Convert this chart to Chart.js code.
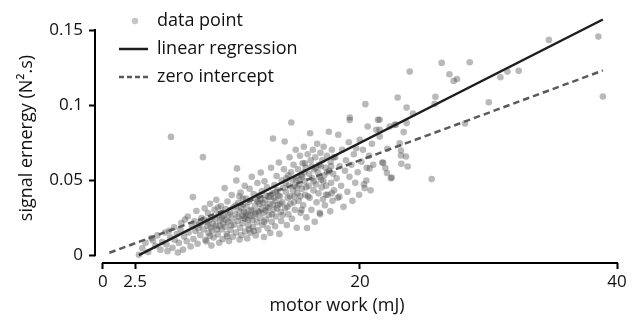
<!DOCTYPE html>
<html>
<head>
<meta charset="utf-8">
<script src="https://cdn.jsdelivr.net/npm/chart.js@4.4.1/dist/chart.umd.min.js"></script>
<style>
  html, body { margin: 0; padding: 0; background: #fff; }
  canvas { display: block; }
</style>
</head>
<body>
<canvas id="workChart" width="637" height="322"></canvas>
<script>
// measured trials: [motor work (mJ), signal energy (N^2.s)]
const dataPoints = [
  // 2.5 - 7 mJ
  [2.8,0.0003],[3.06,0.0046],[3.31,0.0083],[3.52,0.0021],[3.77,0.0114],[3.89,0.0098],[4.08,0.0063],[4.23,0.0132],
  [4.47,0.0037],[4.61,0.0088],[4.83,0.0151],[4.94,0.0072],[5.02,0.0027],[5.14,0.0163],[5.23,0.0119],[5.29,0.0788],
  [5.41,0.0049],[5.53,0.0186],[5.58,0.0103],[5.74,0.0141],[5.83,0.0018],[5.91,0.0082],[6.04,0.0172],[6.1,0.0214],
  [6.23,0.0037],[6.31,0.0124],[6.38,0.0238],[6.52,0.0093],[6.6,0.0258],[6.66,0.0151],[6.82,0.0058],[6.94,0.0193],
  // 7 - 10 mJ
  [7.0,0.0387],[7.04,0.0108],[7.12,0.0226],[7.19,0.0161],[7.27,0.0294],[7.36,0.0076],[7.48,0.0203],[7.57,0.0134],
  [7.66,0.0247],[7.78,0.0653],[7.83,0.0171],[7.91,0.0312],[7.97,0.0102],[8.05,0.0092],[8.09,0.0221],[8.17,0.0281],
  [8.21,0.0148],[8.33,0.0343],[8.38,0.0184],[8.44,0.0064],[8.52,0.0252],[8.61,0.0118],[8.68,0.0302],[8.82,0.0369],
  [8.79,0.0197],[8.93,0.0139],[8.98,0.0268],[9.04,0.0083],[9.12,0.0231],[9.18,0.0327],[9.24,0.0172],[9.31,0.0107],
  [9.47,0.0447],[9.39,0.0262],[9.52,0.0189],[9.55,0.0308],[9.63,0.0143],[9.69,0.0358],[9.74,0.0224],[9.81,0.0094],
  [9.88,0.0283],[9.93,0.0168],[10.02,0.0401],[10.04,0.0242],[10.11,0.0123],[10.14,0.0318],
  [7.42,0.0179],[7.61,0.0215],[7.88,0.0238],[8.13,0.0196],[8.27,0.0233],[8.49,0.0162],[8.56,0.0207],[8.74,0.0241],
  [8.87,0.0173],[9.08,0.0195],[9.27,0.0249],[9.35,0.0211],[9.58,0.0236],[9.77,0.0271],[9.96,0.0199],[8.95,0.0318],
  [9.66,0.0126],[8.31,0.0128],
  // 10 - 12 mJ
  [10.21,0.0203],[10.29,0.0272],[10.38,0.0498],[10.43,0.0578],[10.36,0.0151],[10.52,0.0349],[10.48,0.0228],[10.63,0.0104],
  [10.58,0.0297],[10.71,0.0418],[10.67,0.0182],[10.82,0.0262],[10.77,0.0133],[10.91,0.0338],[10.86,0.0213],[11.03,0.0462],
  [10.98,0.0287],[11.06,0.0158],[11.14,0.0377],[11.09,0.0243],[11.23,0.0112],[11.18,0.0322],[11.32,0.0198],[11.27,0.0269],
  [11.41,0.0443],[11.37,0.0356],[11.48,0.0149],[11.52,0.0301],[11.63,0.0233],[11.58,0.0522],[11.72,0.0408],[11.67,0.0188],
  [11.83,0.0331],[11.78,0.0259],[11.89,0.0131],[11.94,0.0372],[12.02,0.0481],[11.99,0.0219],[12.06,0.0292],
  [10.33,0.0331],[10.55,0.0256],[10.74,0.0314],[10.95,0.0246],[11.12,0.0281],[11.29,0.0234],[11.45,0.0262],[11.61,0.0296],
  [11.86,0.0276],[12.04,0.0358],[10.88,0.0378],[11.36,0.0172],[11.74,0.0161],[10.61,0.0393],
  // 12 - 14 mJ
  [12.12,0.0398],[12.09,0.0168],[12.19,0.0342],[12.23,0.0247],[12.28,0.0551],[12.33,0.0308],[12.41,0.0203],[12.37,0.0427],
  [12.49,0.0282],[12.53,0.0121],[12.61,0.0368],[12.57,0.0492],[12.68,0.0238],[12.73,0.0323],[12.81,0.0179],[12.77,0.0452],
  [12.88,0.0388],[12.93,0.0268],[13.02,0.0148],[12.98,0.0343],[13.08,0.0582],[13.13,0.0223],[13.23,0.0777],[13.19,0.0412],
  [13.27,0.0302],[13.34,0.0468],[13.39,0.0192],[13.43,0.0362],[13.51,0.0528],[13.47,0.0258],[13.58,0.0432],[13.62,0.0332],
  [13.69,0.0617],[13.73,0.0142],[13.78,0.0392],[13.83,0.0288],[13.91,0.0498],[13.87,0.0228],[14.01,0.0448],[13.96,0.0352],
  [12.15,0.0288],[12.45,0.0348],[12.64,0.0298],[12.85,0.0312],[13.05,0.0388],[13.15,0.0272],[13.31,0.0382],[13.55,0.0312],
  [13.65,0.0398],[13.81,0.0342],[12.26,0.0372],[12.71,0.0398],[13.21,0.0338],[13.98,0.0268],[12.55,0.0221],[13.45,0.0422],
  // 14 - 16 mJ
  [14.14,0.0757],[14.08,0.0572],[14.18,0.0312],[14.23,0.0422],[14.31,0.0201],[14.27,0.0512],[14.38,0.0382],[14.43,0.0273],
  [14.52,0.0652],[14.47,0.0463],[14.58,0.0342],[14.63,0.0552],[14.66,0.0884],[14.71,0.0243],[14.78,0.0432],[14.83,0.0602],
  [14.88,0.0392],[14.93,0.0302],[15.0,0.0702],[15.03,0.0502],[15.08,0.0182],[15.13,0.0412],[15.18,0.0572],[15.23,0.0362],
  [15.28,0.0472],[15.33,0.0662],[15.38,0.0282],[15.43,0.0532],[15.48,0.0442],[15.53,0.0612],[15.58,0.0332],[15.63,0.0722],
  [15.68,0.0492],[15.73,0.0402],[15.78,0.0582],[15.83,0.0252],[15.88,0.0181],[15.93,0.0672],[16.01,0.0462],[16.05,0.0542],
  [14.21,0.0482],[14.41,0.0532],[14.56,0.0392],[14.74,0.0502],[14.91,0.0462],[15.06,0.0452],[15.21,0.0512],[15.36,0.0392],
  [15.51,0.0522],[15.66,0.0552],[15.81,0.0452],[15.96,0.0392],[14.35,0.0322],[14.86,0.0352],[15.45,0.0302],[15.71,0.0612],
  // 16 - 18 mJ
  [16.12,0.0812],[16.08,0.0382],[16.17,0.0632],[16.22,0.0302],[16.28,0.0512],[16.33,0.0702],[16.38,0.0432],[16.43,0.0572],
  [16.48,0.0222],[16.52,0.0652],[16.57,0.0472],[16.62,0.0352],[16.67,0.0742],[16.72,0.0552],[16.77,0.0412],[16.82,0.0602],
  [16.87,0.0282],[16.92,0.0682],[16.97,0.0502],[17.02,0.0452],[17.07,0.0632],[17.12,0.0372],[17.17,0.0722],[17.22,0.0532],
  [17.27,0.0332],[17.32,0.0582],[17.37,0.0462],[17.42,0.0662],[17.5,0.0402],[17.58,0.0822],[17.62,0.0562],[17.68,0.0292],
  [17.72,0.0622],[17.76,0.0482],[17.81,0.0702],[17.86,0.0362],[17.91,0.0542],[17.98,0.0432],[17.8,0.0412],[16.9,0.0272],
  [16.25,0.0592],[16.55,0.0582],[16.85,0.0522],[17.15,0.0492],[17.45,0.0552],[17.75,0.0592],[16.4,0.0492],[16.95,0.0592],
  [17.35,0.0402],[17.95,0.0652],
  // 18 - 21.5 mJ
  [18.07,0.0652],[18.18,0.0512],[18.31,0.0802],[18.27,0.0382],[18.42,0.0592],[18.53,0.0462],[18.61,0.0702],[18.72,0.0322],
  [18.83,0.0562],[18.91,0.0632],[19.02,0.0422],[19.13,0.0752],[19.21,0.0917],[19.18,0.0522],[19.33,0.0602],[19.41,0.0362],
  [19.52,0.0672],[19.63,0.0482],[19.71,0.0712],[19.82,0.0552],[19.93,0.0402],[19.98,0.0768],[20.11,0.0622],[20.23,0.0702],
  [20.31,0.0472],[20.42,0.1006],[20.52,0.0582],[20.6,0.0857],[20.71,0.0662],[20.82,0.0432],[20.93,0.0742],[21.03,0.0602],
  [21.27,0.0835],[21.4,0.0902],[18.4,0.0390],[20.5,0.0498],[20.36,0.0447],[20.75,0.0578],[19.2,0.0900],
  // 21.5 mJ and above
  [21.53,0.0902],[21.53,0.0835],[21.53,0.0790],[21.74,0.0617],[21.98,0.0580],[22.13,0.0709],[22.1,0.0547],[22.31,0.0857],
  [22.47,0.0518],[22.7,0.0868],[22.93,0.1050],[23.09,0.0746],[23.19,0.0697],[23.19,0.0664],[23.22,0.0609],[23.4,0.0820],
  [23.63,0.0983],[23.63,0.0880],[23.58,0.0657],[23.71,0.0591],[23.87,0.1223],[24.12,0.0943],[25.58,0.0507],[25.81,0.1008],
  [25.87,0.1055],[22.8,0.0870],[22.4,0.0513],[21.8,0.0615],
  [26.36,0.1281],[26.96,0.1205],[27.29,0.1161],[27.55,0.1174],[28.17,0.0877],[28.54,0.1285],[30.02,0.1019],[30.93,0.1185],
  [31.47,0.1223],[32.35,0.1228],[34.7,0.1434],[38.55,0.1456],[38.9,0.1057]
];

// fitted lines, end points
const regressionLine = [[2.8, 0.000], [38.9, 0.157]];
const zeroInterceptLine = [[0.5, 0.0016], [38.9, 0.123]];

const xTicks = [0, 2.5, 20, 40];
const yTicks = [0, 0.05, 0.1, 0.15];

const FONT = '"Open Sans", "DejaVu Sans", sans-serif';
const toXY = pts => pts.map(p => ({ x: p[0], y: p[1] }));

// offset spines, axis titles and the legend
const decorations = {
  id: 'decorations',
  afterDraw(chart) {
    const { ctx, chartArea, scales } = chart;
    const x = scales.x, y = scales.y;
    ctx.save();
    ctx.strokeStyle = '#000';
    ctx.lineWidth = 2;
    ctx.beginPath();
    ctx.moveTo(x.getPixelForValue(0) - 1, chartArea.bottom);
    ctx.lineTo(x.getPixelForValue(40) + 1, chartArea.bottom);
    ctx.moveTo(chartArea.left, y.getPixelForValue(0) + 1);
    ctx.lineTo(chartArea.left, y.getPixelForValue(0.15) - 1);
    ctx.stroke();

    ctx.fillStyle = '#111';
    ctx.font = '18px ' + FONT;
    ctx.textAlign = 'center';
    ctx.textBaseline = 'middle';
    ctx.fillText('motor work (mJ)', 337, 306);
    ctx.save();
    ctx.translate(27, 138);
    ctx.rotate(-Math.PI / 2);
    ctx.fillText('signal ernergy (N\u00B2.s)', 0, 0);
    ctx.restore();

    // legend
    const rows = [21, 49, 77];
    ctx.textAlign = 'left';
    chart.data.datasets.forEach((ds, i) => {
      const ry = rows[i];
      if (ds.showLine) {
        ctx.strokeStyle = ds.borderColor;
        ctx.lineWidth = ds.borderWidth;
        ctx.setLineDash(ds.borderDash ? [5, 3] : []);
        ctx.beginPath();
        ctx.moveTo(119, ry);
        ctx.lineTo(148, ry);
        ctx.stroke();
        ctx.setLineDash([]);
      } else {
        ctx.fillStyle = '#c6c6c6';
        ctx.beginPath();
        ctx.arc(135, ry, 3.2, 0, Math.PI * 2);
        ctx.fill();
      }
      ctx.fillStyle = '#111';
      ctx.fillText(ds.label, 157, ry);
    });
    ctx.restore();
  }
};

const ctx = document.getElementById('workChart').getContext('2d');
const workChart = new Chart(ctx, {
  type: 'scatter',
  data: {
    datasets: [
      {
        label: 'data point',
        data: toXY(dataPoints),
        backgroundColor: 'rgba(60, 60, 60, 0.36)',
        borderWidth: 0,
        pointRadius: 3.3,
        order: 3
      },
      {
        label: 'linear regression',
        data: toXY(regressionLine),
        showLine: true,
        borderColor: '#1e1e1e',
        borderWidth: 2.5,
        pointRadius: 0,
        order: 1
      },
      {
        label: 'zero intercept',
        data: toXY(zeroInterceptLine),
        showLine: true,
        borderColor: '#5a5a5a',
        borderWidth: 2.5,
        borderDash: [6.5, 4],
        pointRadius: 0,
        order: 2
      }
    ]
  },
  options: {
    responsive: false,
    animation: false,
    clip: false,
    layout: { padding: { top: 30, right: 20, left: 0, bottom: 0 } },
    plugins: { legend: { display: false }, tooltip: { enabled: false } },
    scales: {
      x: {
        type: 'linear',
        min: -0.62,
        max: 40,
        afterFit: s => { s.height = 59; },
        afterBuildTicks: s => { s.ticks = xTicks.map(v => ({ value: v })); },
        border: { display: false },
        grid: { drawOnChartArea: false, drawTicks: true, tickLength: 6, tickColor: '#000', tickWidth: 2 },
        ticks: { autoSkip: false, maxRotation: 0, padding: 3, color: '#111', font: { family: FONT, size: 17 },
                 callback: v => String(v) }
      },
      y: {
        type: 'linear',
        min: -0.0052,
        max: 0.15,
        afterFit: s => { s.width = 95; },
        afterBuildTicks: s => { s.ticks = yTicks.map(v => ({ value: v })); },
        border: { display: false },
        grid: { drawOnChartArea: false, drawTicks: true, tickLength: 6, tickColor: '#000', tickWidth: 2 },
        ticks: { autoSkip: false, padding: 6, color: '#111', font: { family: FONT, size: 17 },
                 callback: v => String(v) }
      }
    }
  },
  plugins: [decorations]
});
</script>
</body>
</html>
